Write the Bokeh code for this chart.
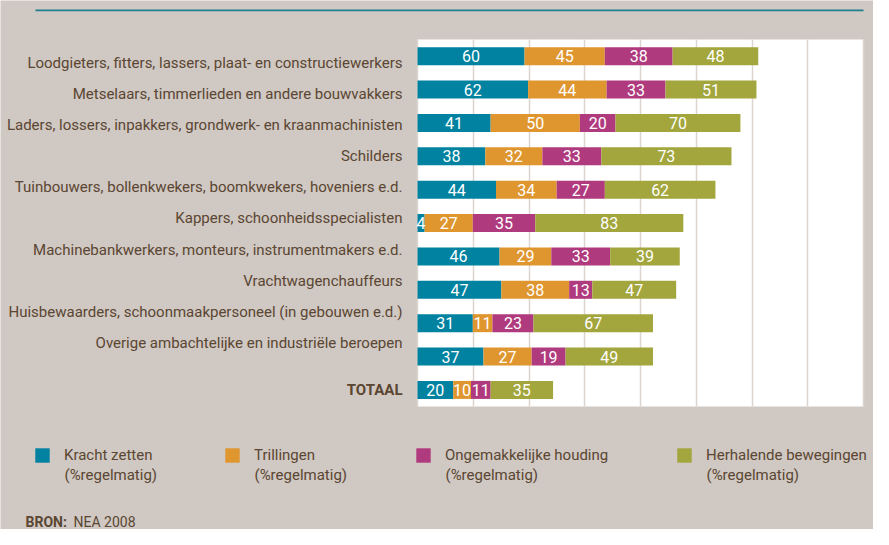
from bokeh.plotting import figure
from bokeh.models import (ColumnDataSource, Range1d, FixedTicker, Grid,
                          Label, Legend, LegendItem, BoxAnnotation)
from bokeh.core.properties import value
from bokeh.embed import file_html
from bokeh.resources import INLINE

categories = [
    "Loodgieters, fitters, lassers, plaat- en constructiewerkers",
    "Metselaars, timmerlieden en andere bouwvakkers",
    "Laders, lossers, inpakkers, grondwerk- en kraanmachinisten",
    "Schilders",
    "Tuinbouwers, bollenkwekers, boomkwekers, hoveniers e.d.",
    "Kappers, schoonheidsspecialisten",
    "Machinebankwerkers, monteurs, instrumentmakers e.d.",
    "Vrachtwagenchauffeurs",
    "Huisbewaarders, schoonmaakpersoneel (in gebouwen e.d.)",
    "Overige ambachtelijke en industriële beroepen",
    "TOTAAL",
]
kracht_zetten = [60, 62, 41, 38, 44, 4, 46, 47, 31, 37, 20]
trillingen = [45, 44, 50, 32, 34, 27, 29, 38, 11, 27, 10]
ongemakkelijke_houding = [38, 33, 20, 33, 27, 35, 33, 13, 23, 19, 11]
herhalende_bewegingen = [48, 51, 70, 73, 62, 83, 39, 47, 67, 49, 35]

series_keys = ["kracht", "trill", "houding", "herhal"]
series_values = [kracht_zetten, trillingen, ongemakkelijke_houding, herhalende_bewegingen]
series_names = ["Kracht zetten", "Trillingen", "Ongemakkelijke houding", "Herhalende bewegingen"]
series_unit = "(%regelmatig)"
colors = ["#0082a0", "#e0962f", "#b03a7e", "#a2a63c"]
x_max = 250
grid_ticks = [0, 31.25, 62.5, 93.75, 125, 156.25, 187.5, 218.75, 250]

BG = "#d0c8c2"
TXT = "#5a4632"
FONT = "Roboto"

W, H = 873, 529
PX_X = 446 / x_max        # pixels per x unit
ROW = 33.4                # pixels per row
n = len(categories)
ypos = [n - 1 - i for i in range(n)]   # top row highest

x_start = -417 / PX_X
x_end = x_max + 10 / PX_X
y_top = (n - 0.5) + 39 / ROW
y_bot = -0.5 - 123 / ROW

# the occupation labels sit on a slightly tighter pitch than the bars
LABEL_PITCH = 31.1 / ROW
anchor = ypos[3]
label_y = [y if c == "TOTAAL" else anchor + (y - anchor) * LABEL_PITCH
           for c, y in zip(categories, ypos)]

data = {"cat": categories, "y": ypos, "ly": label_y,
        "style": ["bold" if c == "TOTAAL" else "normal" for c in categories]}
for k, v in zip(series_keys, series_values):
    data[k] = v
source = ColumnDataSource(data)

p = figure(width=W, height=H, output_backend="svg", toolbar_location=None,
           x_range=Range1d(x_start, x_end), y_range=Range1d(y_bot, y_top),
           x_axis_location=None, y_axis_location=None,
           min_border=0, min_border_left=0, min_border_right=0,
           min_border_top=0, min_border_bottom=0)
p.background_fill_color = BG
p.border_fill_color = BG
p.outline_line_color = None
p.grid.visible = False

# white plot area
p.add_layout(BoxAnnotation(left=0, right=x_max, bottom=-0.5, top=n - 0.5,
                           fill_color="white", fill_alpha=1, line_color=None,
                           level="underlay"))
p.add_layout(Grid(dimension=0, ticker=FixedTicker(ticks=grid_ticks),
                  cross_bounds=(-0.5, n - 0.5),
                  grid_line_color="#dcd5cf", grid_line_width=1.5, level="underlay"))

renderers = p.hbar_stack(series_keys, y="y", height=0.54, color=colors,
                         line_color=None, source=source)

# value labels inside segments
for i, (k, vals) in enumerate(zip(series_keys, series_values)):
    left = [sum(sv[j] for sv in series_values[:i]) for j in range(n)]
    mids = [l + v / 2 for l, v in zip(left, vals)]
    lsrc = ColumnDataSource({"x": mids, "y": ypos, "t": [str(v) for v in vals]})
    p.text(x="x", y="y", text="t", source=lsrc, text_align="center", text_baseline="middle",
           text_color="white", text_font=value(FONT), text_font_size="16px")

# category labels
p.text(x=0, y="ly", text="cat", source=source, x_offset=-15, text_align="right",
       text_baseline="middle", text_font=value(FONT), text_font_size="15px",
       text_font_style="style", text_color=TXT)

# top rule
p.add_layout(BoxAnnotation(left=-382 / PX_X, right=x_max,
                           top=(n - 0.5) + 30 / ROW, bottom=(n - 0.5) + 28.2 / ROW,
                           fill_color="#1f7f91", fill_alpha=1, line_color=None))

# legend: one block per series (swatch drawn at 80% of the glyph box)
legend_x = [35, 225, 416, 677]
GLYPH = 18
inset = 2
for r, name, lx in zip(renderers, series_names, legend_x):
    lg = Legend(items=[LegendItem(label=name, renderers=[r])],
                location=(lx - inset, 65), glyph_width=GLYPH, glyph_height=GLYPH,
                label_standoff=29 - GLYPH + inset,
                label_text_font=FONT, label_text_font_size="15px", label_text_color=TXT,
                background_fill_alpha=0, border_line_color=None, padding=0, margin=0)
    p.add_layout(lg, "center")
    p.add_layout(Label(x=lx + 29, y=55, x_units="screen", y_units="screen", text=series_unit,
                       text_baseline="middle", text_font=FONT, text_font_size="15px",
                       text_color=TXT))

p.add_layout(Label(x=25, y=8, x_units="screen", y_units="screen", text="BRON:",
                   text_baseline="middle", text_font=FONT, text_font_size="14px",
                   text_font_style="bold", text_color=TXT))
p.add_layout(Label(x=73, y=8, x_units="screen", y_units="screen", text="NEA 2008",
                   text_baseline="middle", text_font=FONT, text_font_size="14px",
                   text_color=TXT))

open("out.html", "w").write(file_html(p, INLINE))
